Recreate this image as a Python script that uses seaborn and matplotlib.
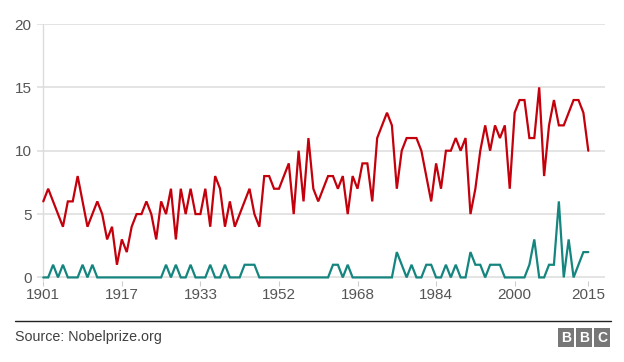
import numpy as np
import pandas as pd
import matplotlib
matplotlib.use("Agg")
import matplotlib.pyplot as plt
import seaborn as sns
from matplotlib.patches import Rectangle
from matplotlib.lines import Line2D

# ---- data ----
years = list(range(1901, 1940)) + list(range(1943, 2016))
men = [6, 7, 6, 5, 4, 6, 6, 8, 6, 4,
       5, 6, 5, 3, 4, 1, 3, 2, 4, 5,
       5, 6, 5, 3, 6, 5, 7, 3, 7, 5,
       7, 5, 5, 7, 4, 8, 7, 4, 6, 4,
       5, 6, 7, 5, 4, 8, 8, 7, 7, 8,
       9, 5, 10, 6, 11, 7, 6, 7, 8, 8,
       7, 8, 5, 8, 7, 9, 9, 6, 11, 12,
       13, 12, 7, 10, 11, 11, 11, 10, 8, 6,
       9, 7, 10, 10, 11, 10, 11, 5, 7, 10,
       12, 10, 12, 11, 12, 7, 13, 14, 14, 11,
       11, 15, 8, 12, 14, 12, 12, 13, 14, 14,
       13, 10]
women = [0, 0, 1, 0, 1, 0, 0, 0, 1, 0,
         1, 0, 0, 0, 0, 0, 0, 0, 0, 0,
         0, 0, 0, 0, 0, 1, 0, 1, 0, 0,
         1, 0, 0, 0, 1, 0, 0, 1, 0, 0,
         0, 1, 1, 1, 0, 0, 0, 0, 0, 0,
         0, 0, 0, 0, 0, 0, 0, 0, 0, 1,
         1, 0, 1, 0, 0, 0, 0, 0, 0, 0,
         0, 0, 2, 1, 0, 1, 0, 0, 1, 1,
         0, 0, 1, 0, 1, 0, 0, 2, 1, 1,
         0, 1, 1, 1, 0, 0, 0, 0, 0, 1,
         3, 0, 0, 1, 1, 6, 0, 3, 0, 1,
         2, 2]
tick_years = [1901, 1917, 1933, 1952, 1968, 1984, 2000, 2015]
y_ticks = [0, 5, 10, 15, 20]
source_text = "Source: Nobelprize.org"

RED = "#c3000b"
TEAL = "#14857f"

pos = list(range(len(years)))
df = pd.DataFrame({
    "pos": pos * 2,
    "year": years * 2,
    "count": men + women,
    "series": ["Men"] * len(years) + ["Women"] * len(years),
})

sns.set_theme(style="white")
plt.rcParams['font.family'] = ['Liberation Sans', 'DejaVu Sans']

W, H = 624, 362
fig = plt.figure(figsize=(W / 100, H / 100), dpi=100)
fig.patch.set_facecolor("white")

def rect(x0, y0, x1, y1):
    return [x0 / W, 1 - y1 / H, (x1 - x0) / W, (y1 - y0) / H]

ax = fig.add_axes(rect(37, 24, 605, 280.6))
ax.set_facecolor("white")

sns.lineplot(data=df, x="pos", y="count", hue="series",
             palette={"Men": RED, "Women": TEAL}, linewidth=1.6,
             legend=False, ax=ax, clip_on=False, estimator=None,
             solid_joinstyle="miter")

ax.set_xlim(-1.28, 114.4)
ax.set_ylim(-0.25, 20)

for s in ax.spines.values():
    s.set_visible(False)

ax.set_yticks(y_ticks)
ax.set_yticklabels([str(v) for v in y_ticks])
ax.yaxis.grid(True, color="#dcdcdc", linewidth=1.1)
ax.xaxis.grid(False)
ax.set_axisbelow(True)
ax.axvline(0, color="#dcdcdc", linewidth=1.0, zorder=0)

tick_pos = [years.index(y) for y in tick_years]
ax.set_xticks(tick_pos)
ax.set_xticklabels([str(y) for y in tick_years])
ax.tick_params(axis="x", length=3.5, width=0.8, color="#cccccc",
               pad=2, labelsize=11, labelcolor="#555555", bottom=True)
ax.tick_params(axis="y", length=0, pad=4, labelsize=11, labelcolor="#555555")
ax.set_xlabel("")
ax.set_ylabel("")

# footer line
fig.add_artist(Line2D([15 / W, 611 / W], [1 - 321 / H, 1 - 321 / H],
                      color="#222222", linewidth=1.0))
fig.text(15 / W, 1 - 337 / H, source_text, fontsize=10.3, color="#404040",
         ha="left", va="center")

# BBC logo
for i, letter in enumerate(["B", "B", "C"]):
    x0 = 558 + i * 18
    fig.add_artist(Rectangle((x0 / W, 1 - 347 / H), 16 / W, 19 / H,
                             transform=fig.transFigure, facecolor="#777777",
                             edgecolor="none"))
    fig.text((x0 + 8) / W, 1 - 337.5 / H, letter, color="white",
             fontsize=10, fontweight="bold", ha="center", va="center")

fig.savefig("out.png", dpi=100, facecolor="white")
